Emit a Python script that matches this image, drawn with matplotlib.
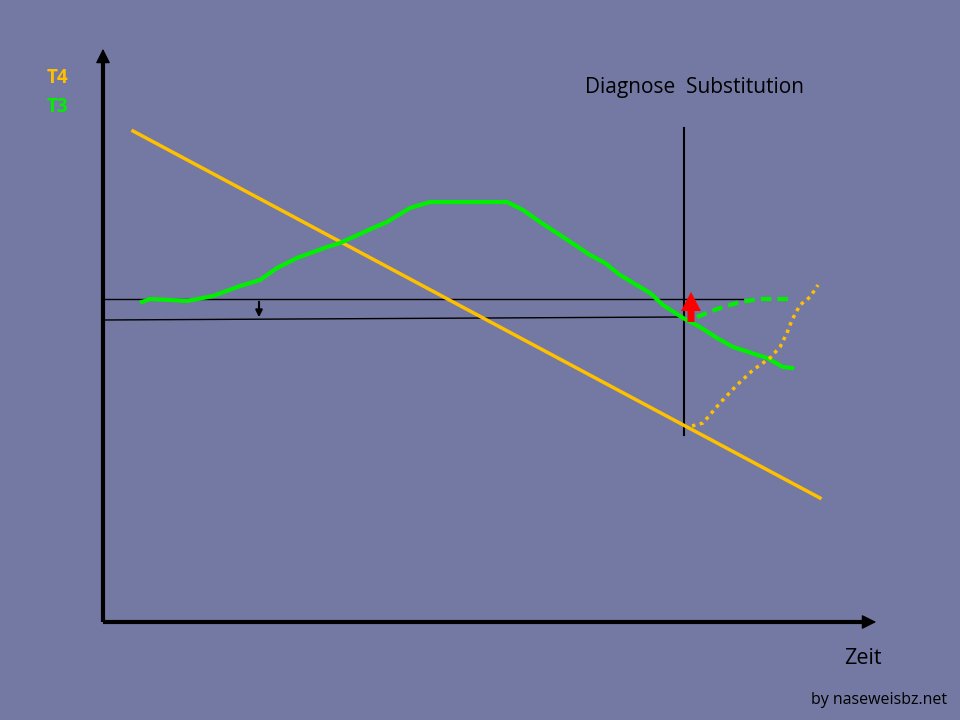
import matplotlib.pyplot as plt

# schematic coordinates (x = time, y = level, screen units, y grows downward)
t3_x = [142, 150, 170, 187, 213, 240, 260, 277, 297, 327, 340, 373, 387, 410, 430, 470, 507, 523, 540,
        560, 590, 605, 620, 650, 663, 683, 700, 717, 733, 767, 783, 792]
t3_y = [302, 299, 300, 301, 296, 286, 280, 268, 258, 247, 243, 228, 222, 208, 202, 202, 202, 210, 222,
        235, 255, 263, 275, 293, 305, 318, 327, 338, 347, 358, 367, 368]

t3_sub_x = [697, 717, 740, 760, 792]
t3_sub_y = [317, 309, 302, 299, 299]

t4_x = [133, 820]
t4_y = [131, 498]

t4_sub_x = [692, 703, 720, 737, 753, 770, 780, 787, 792, 800, 810, 818]
t4_sub_y = [426, 423, 403, 385, 370, 358, 347, 333, 320, 305, 297, 285]

ref_hi_x, ref_hi_y = [103, 743], [299, 299]
ref_lo_x, ref_lo_y = [103, 679], [320, 317]
diag_x, diag_y = [684, 684], [128, 435]

bg = '#7379A3'
orange = '#FFC000'
green = '#00F000'

fig = plt.figure(figsize=(9.6, 7.2), dpi=100, facecolor=bg)
ax = fig.add_axes([0, 0, 1, 1])
ax.set_facecolor(bg)
ax.set_xlim(0, 960)
ax.set_ylim(720, 0)
ax.axis('off')

# axes with arrow heads
ax.plot([103, 103], [622, 60], color='black', lw=3, solid_capstyle='butt')
ax.plot([103, 865], [622, 622], color='black', lw=3, solid_capstyle='butt')
ax.annotate('', xy=(103, 46), xytext=(103, 64),
            arrowprops=dict(arrowstyle='-|>', color='black', lw=1, mutation_scale=22))
ax.annotate('', xy=(879, 622), xytext=(861, 622),
            arrowprops=dict(arrowstyle='-|>', color='black', lw=1, mutation_scale=22))

# reference lines
ax.plot(ref_hi_x, ref_hi_y, color='black', lw=1)
ax.plot(ref_lo_x, ref_lo_y, color='black', lw=1)
ax.annotate('', xy=(259, 320), xytext=(259, 299),
            arrowprops=dict(arrowstyle='-|>', color='black', lw=1.5, mutation_scale=10))
ax.plot(diag_x, diag_y, color='black', lw=1.5)

# curves
ax.plot(t4_x, t4_y, color=orange, lw=2.5)
ax.plot(t3_x, t3_y, color=green, lw=3)
ax.plot(t3_sub_x, t3_sub_y, color=green, lw=3, ls=(0, (2.5, 1.5)))
ax.plot(t4_sub_x, t4_sub_y, color=orange, lw=2.5, ls=(0, (1, 1.3)))

# substitution arrow
ax.arrow(691, 322, 0, -30, width=7, head_width=20, head_length=19,
         length_includes_head=True, color='red', lw=0, zorder=5)

font = 'Open Sans'
ax.text(47, 78, 'T4', color=orange, fontsize=13.5, fontweight='bold', family=font, va='center')
ax.text(47, 107, 'T3', color=green, fontsize=13.5, fontweight='bold', family=font, va='center')
ax.text(585, 88, 'Diagnose  Substitution', color='black', fontsize=15, family=font, va='center')
ax.text(844, 659, 'Zeit', color='black', fontsize=15.5, family=font, va='center')
ax.text(811, 700, 'by naseweisbz.net', color='black', fontsize=11.5, family=font, va='center')

fig.savefig('out.png', dpi=100, facecolor=bg)
